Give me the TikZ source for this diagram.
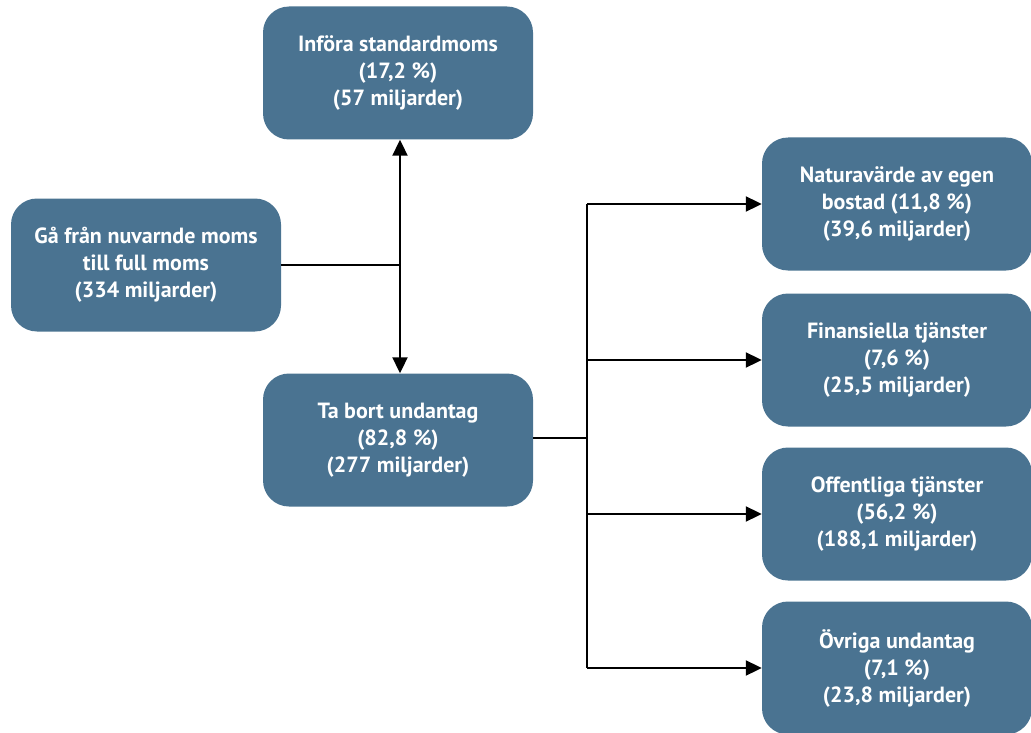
\documentclass[tikz,border=0pt]{standalone}
\usepackage{fontspec}
\setmainfont{PT Sans}
\usetikzlibrary{arrows.meta}
\definecolor{boxblue}{HTML}{4A7391}
\tikzset{
  box/.style={
    draw=none, fill=boxblue, rounded corners=26pt,
    minimum width=270pt, minimum height=133pt,
    text=white, align=center, font=\fontsize{22}{27}\selectfont\bfseries
  },
  link/.style={line width=2pt},
  arrowlink/.style={link, -{Triangle[length=16pt,width=15pt]}}
}
\begin{document}
\begin{tikzpicture}[x=1pt,y=-1pt]
  \useasboundingbox (0,0) rectangle (1031,733);

  \node[box] (full) at (146,265) {Gå från nuvarnde moms\\till full moms\\(334 miljarder)};
  \node[box] (std) at (398,73) {Införa standardmoms\\(17,2 \%)\\(57 miljarder)};
  \node[box] (undan) at (398,440) {Ta bort undantag\\(82,8 \%)\\(277 miljarder)};

  \node[box] (bostad) at (897,204) {Naturavärde av egen\\bostad (11,8 \%)\\(39,6 miljarder)};
  \node[box] (fin) at (897,360) {Finansiella tjänster\\(7,6 \%)\\(25,5 miljarder)};
  \node[box] (off) at (897,514) {Offentliga tjänster\\(56,2 \%)\\(188,1 miljarder)};
  \node[box] (ovr) at (897,668) {Övriga undantag\\(7,1 \%)\\(23,8 miljarder)};

  % left split
  \coordinate (J1) at (400,265);
  \draw[link] (full.east |- J1) -- (J1);
  \draw[arrowlink, {Triangle[length=16pt,width=15pt]}-{Triangle[length=16pt,width=15pt]}]
    (std.south -| J1) -- (undan.north -| J1);

  % right split
  \coordinate (J2) at (587,438);
  \coordinate (T2) at (587,204);
  \coordinate (B2) at (587,668);
  \draw[link] (undan.east |- J2) -- (J2);
  \draw[link] (T2) -- (B2);
  \draw[arrowlink] (T2) -- (bostad.west |- T2);
  \draw[arrowlink] (T2 |- fin.west) -- (fin.west);
  \draw[arrowlink] (T2 |- off.west) -- (off.west);
  \draw[arrowlink] (B2) -- (ovr.west |- B2);
\end{tikzpicture}
\end{document}
